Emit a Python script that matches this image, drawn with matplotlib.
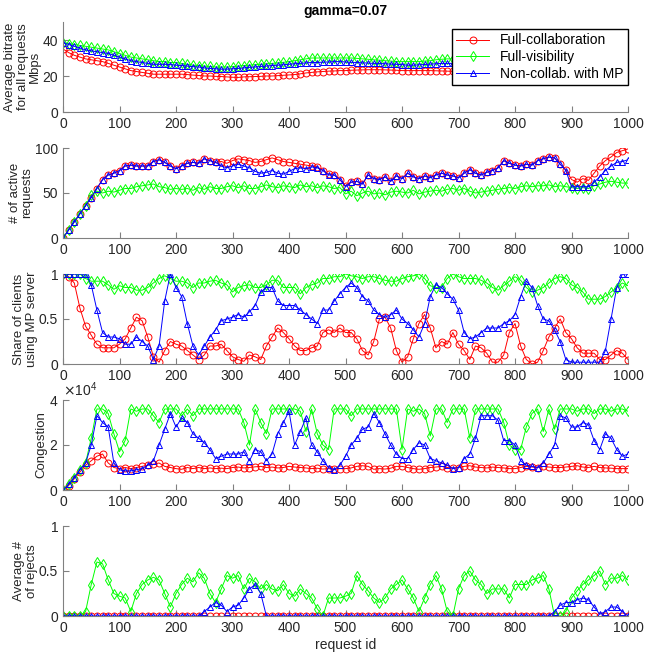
import numpy as np
import matplotlib
matplotlib.use('Agg')
import matplotlib.pyplot as plt
from matplotlib.ticker import FuncFormatter, ScalarFormatter

plt.rcParams['font.family'] = ['Liberation Sans', 'DejaVu Sans']
plt.rcParams['font.size'] = 10

# request ids (one sample every 10 requests)
req = np.arange(0, 1001, 10)
labels = ['Full-collaboration', 'Full-visibility', 'Non-collab. with MP']

# average bitrate (Mbps)
rate_fc = [35, 33, 31.5, 30.5, 29.5, 29, 28.5, 28, 27, 26,
           25, 24, 23, 22.5, 22, 21.5, 21, 21, 21, 21,
           21, 21, 20.8, 20.5, 20.3, 20, 20, 19.8, 19.7, 19.5,
           19.3, 19.2, 19.5, 19.6, 19.7, 19.8, 20, 20, 20.2, 20.4,
           20.6, 20.8, 21.2, 21.7, 22, 22.3, 22.5, 22.7, 22.8, 23,
           23, 23.2, 23.3, 23.4, 23.5, 23.5, 23.5, 23.4, 23.3, 23.2,
           23, 23, 23, 23, 23, 23, 22.9, 22.8, 22.7, 22.6,
           22.5, 22.3, 22.1, 21.9, 21.7, 21.5, 21.3, 21.1, 20.9, 20.7,
           20.5, 20.4, 20.3, 20.2, 20.1, 20, 19.9, 19.8, 19.7, 19.6,
           19.5, 19.5, 19.4, 19.4, 19.3, 19.3, 19.2, 19.2, 19.1, 19.1,
           19]
rate_fv = [38.5, 38, 37.5, 37, 36.5, 36, 35.5, 35, 34.5, 33.5,
           32.5, 31.5, 30.5, 30, 29.5, 29, 28.5, 28, 28, 27.5,
           27.5, 27, 26.5, 26, 25.8, 25.5, 25.3, 25, 25, 25,
           25.2, 25.5, 25.8, 26, 26.3, 26.5, 26.8, 27, 27.3, 27.6,
           28, 28.5, 29, 29.5, 30, 30, 30, 30, 30, 30,
           30, 30, 29.8, 29.5, 29.3, 29, 28.8, 28.5, 28.3, 28,
           28, 28, 28, 28, 28.3, 28.5, 29, 29.3, 29.5, 29.5,
           29.5, 29.4, 29.3, 29.2, 29.1, 29, 28.9, 28.8, 28.7, 28.6,
           28.5, 28.5, 28.4, 28.4, 28.3, 28.3, 28.2, 28.2, 28.1, 28.1,
           28, 28, 28, 28, 28, 28, 28, 28, 28, 28,
           28]
rate_nc = [38.5, 37.5, 36.5, 35.5, 34.5, 34, 33.5, 33, 32.5, 31.5,
           30.5, 29.5, 28.5, 28, 27.5, 27, 26.5, 26.5, 26.5, 26.3,
           26, 25.8, 25.5, 25.2, 25, 24.5, 24.2, 24, 23.8, 23.8,
           24, 24.2, 24.5, 24.8, 25, 25.3, 25.5, 25.8, 26, 26.2,
           26.5, 26.8, 27, 27.3, 27.5, 27.5, 27.7, 27.8, 28, 28,
           27.8, 27.6, 27.5, 27.3, 27.2, 27, 27, 26.8, 26.6, 26.5,
           26.3, 26, 26, 26.2, 26.4, 26.6, 26.8, 27, 27, 27,
           27, 27, 27, 27, 27, 27, 26.9, 26.9, 26.8, 26.8,
           26.8, 26.7, 26.7, 26.7, 26.6, 26.6, 26.6, 26.6, 26.5, 26.5,
           26.5, 26.5, 26.5, 26.5, 26.5, 26.5, 26.5, 26.5, 26.5, 26.5,
           26.5]

# number of active requests
active_fc = [0, 9, 18, 27, 36, 45, 55, 65, 70, 72,
             75, 80, 81, 80, 80, 80, 85, 87, 84, 80,
             77, 80, 83, 84, 83, 88, 86, 84, 85, 83,
             86, 88, 87, 86, 84, 85, 87, 89, 87, 85,
             84, 83, 82, 81, 80, 79, 75, 71, 70, 65,
             58, 62, 63, 60, 70, 66, 65, 68, 63, 69,
             66, 72, 68, 66, 69, 67, 70, 72, 70, 69,
             67, 72, 76, 72, 70, 73, 75, 78, 86, 83,
             81, 80, 82, 81, 86, 88, 90, 89, 82, 76,
             65, 62, 66, 64, 72, 80, 86, 90, 95, 97,
             99]
active_fv = [0, 9, 18, 27, 36, 48, 52, 50, 52, 51,
             53, 55, 55, 57, 58, 59, 60, 57, 56, 54,
             55, 54, 55, 53, 56, 54, 57, 55, 55, 57,
             58, 56, 58, 55, 55, 57, 59, 57, 56, 58,
             57, 56, 59, 57, 58, 56, 58, 57, 55, 56,
             49, 52, 47, 50, 52, 49, 50, 48, 51, 52,
             51, 50, 53, 49, 51, 52, 53, 52, 54, 55,
             53, 55, 52, 50, 51, 52, 53, 54, 55, 56,
             55, 57, 58, 57, 58, 58, 59, 57, 58, 57,
             56, 55, 56, 55, 58, 60, 62, 63, 62, 61,
             61]
active_nc = [0, 9, 18, 27, 36, 45, 55, 65, 70, 72,
             75, 80, 81, 80, 80, 80, 85, 87, 84, 80,
             77, 80, 83, 84, 83, 88, 86, 84, 80, 78,
             80, 82, 80, 78, 74, 72, 73, 75, 72, 71,
             74, 77, 78, 77, 79, 78, 75, 70, 70, 65,
             57, 62, 63, 60, 70, 66, 65, 68, 63, 69,
             66, 72, 68, 66, 69, 67, 70, 72, 70, 69,
             67, 72, 76, 72, 70, 73, 75, 78, 86, 83,
             81, 80, 82, 81, 86, 88, 90, 89, 82, 75,
             57, 57, 57, 57, 62, 68, 75, 80, 84, 85,
             87]

# share of clients using the MP server
share_fc = [1.0, 0.97, 0.9, 0.62, 0.42, 0.32, 0.22, 0.18, 0.18, 0.18,
            0.22, 0.28, 0.4, 0.52, 0.48, 0.3, 0.08, 0.02, 0.15, 0.25,
            0.22, 0.2, 0.15, 0.1, 0.05, 0.1, 0.2, 0.2, 0.22, 0.15,
            0.08, 0.05, 0.03, 0.1, 0.08, 0.05, 0.2, 0.3, 0.4, 0.35,
            0.28, 0.2, 0.15, 0.15, 0.18, 0.2, 0.35, 0.38, 0.35, 0.4,
            0.35, 0.35, 0.28, 0.15, 0.1, 0.25, 0.5, 0.52, 0.4, 0.15,
            0.02, 0.08, 0.28, 0.45, 0.55, 0.4, 0.18, 0.25, 0.22, 0.35,
            0.22, 0.15, 0.05, 0.2, 0.18, 0.12, 0.02, 0.02, 0.1, 0.35,
            0.45, 0.2, 0.05, 0.0, 0.02, 0.15, 0.3, 0.4, 0.5, 0.35,
            0.28, 0.18, 0.12, 0.12, 0.12, 0.05, 0.05, 0.1, 0.15, 0.12,
            0.05]
share_fv = [1, 1, 1, 1, 0.95, 0.92, 0.92, 0.92, 0.88, 0.83,
            0.87, 0.85, 0.85, 0.82, 0.82, 0.85, 0.9, 0.95, 0.98, 0.95,
            0.92, 0.92, 0.9, 0.85, 0.9, 0.9, 0.92, 0.93, 0.9, 0.88,
            0.8, 0.85, 0.87, 0.88, 0.85, 0.85, 0.88, 0.93, 0.93, 0.85,
            0.85, 0.85, 0.78, 0.85, 0.88, 0.9, 0.95, 0.95, 0.97, 0.97,
            1.0, 0.98, 0.97, 0.95, 0.97, 0.97, 0.95, 0.93, 0.92, 0.92,
            0.95, 0.97, 0.98, 1.0, 0.95, 0.87, 0.85, 0.85, 0.95, 1.0,
            0.97, 0.95, 0.95, 0.95, 0.93, 0.9, 0.85, 0.82, 0.87, 0.92,
            0.97, 0.93, 0.85, 0.8, 0.82, 0.85, 0.9, 0.95, 0.97, 0.95,
            0.88, 0.85, 0.8, 0.72, 0.72, 0.72, 0.75, 0.8, 0.85, 0.9,
            0.87]
share_nc = [1, 1, 1, 1, 1, 0.88, 0.6, 0.35, 0.3, 0.3,
            0.28, 0.22, 0.22, 0.3, 0.25, 0.2, 0.05, 0.2, 0.7, 1.0,
            0.85, 0.75, 0.45, 0.2, 0.1, 0.2, 0.3, 0.38, 0.48, 0.5,
            0.52, 0.55, 0.52, 0.58, 0.65, 0.8, 0.85, 0.85, 0.7, 0.65,
            0.65, 0.65, 0.6, 0.55, 0.5, 0.45, 0.6, 0.6, 0.7, 0.78,
            0.85, 0.9, 0.85, 0.75, 0.7, 0.6, 0.55, 0.52, 0.55, 0.6,
            0.5, 0.45, 0.38, 0.3, 0.45, 0.75, 0.88, 0.85, 0.78, 0.72,
            0.6, 0.35, 0.28, 0.3, 0.35, 0.4, 0.4, 0.4, 0.45, 0.48,
            0.55, 0.75, 0.92, 0.85, 0.65, 0.5, 0.48, 0.38, 0.25, 0.05,
            0.02, 0.02, 0.02, 0.02, 0.02, 0.02, 0.15, 0.5, 0.85, 1.0,
            1.0]

# congestion (x 10^4)
cong_fc = [0, 0.2, 0.5, 0.8, 1.1, 1.3, 1.5, 1.6, 1.2, 1.0,
           0.95, 1.0, 0.95, 1.0, 1.05, 1.1, 1.15, 1.2, 1.05, 1.0,
           0.95, 0.92, 1.0, 0.95, 1.0, 0.95, 0.98, 0.95, 0.97, 0.95,
           1.0, 1.02, 0.98, 1.0, 1.03, 1.05, 1.0, 1.02, 0.98, 1.0,
           1.05, 1.02, 1.0, 0.98, 0.95, 0.97, 0.93, 0.95, 0.92, 0.95,
           0.95, 0.98, 1.05, 1.08, 1.05, 0.92, 0.95, 0.93, 0.97, 1.05,
           1.05, 1.0, 0.95, 0.92, 0.95, 1.0, 1.02, 1.05, 1.0, 0.98,
           1.0, 1.05, 1.08, 1.02, 1.0, 0.98, 1.02, 1.0, 0.98, 0.95,
           0.95, 1.0, 1.05, 1.02, 1.0, 1.05, 1.02, 1.0, 1.0, 1.02,
           1.05, 1.08, 1.02, 1.0, 1.05, 1.0, 0.98, 0.97, 0.95, 0.95,
           0.95]
cong_fv = [0, 0.25, 0.55, 0.9, 1.2, 2.3, 3.6, 3.6, 3.4, 2.5,
           1.7, 2.2, 3.6, 3.5, 3.6, 3.6, 3.3, 3.0, 3.6, 3.6,
           3.6, 3.3, 3.6, 3.3, 3.6, 3.6, 3.6, 3.6, 3.6, 3.6,
           3.6, 3.6, 3.0, 2.0, 3.6, 3.0, 2.5, 3.6, 3.6, 3.6,
           3.6, 3.6, 3.5, 2.6, 3.6, 2.5, 2.0, 1.8, 3.6, 3.6,
           3.6, 3.3, 3.6, 3.6, 3.6, 3.6, 3.6, 3.6, 3.6, 3.6,
           1.8, 3.6, 3.5, 3.6, 3.4, 2.4, 3.6, 3.6, 3.0, 3.6,
           3.6, 3.6, 2.3, 3.6, 3.6, 3.6, 3.6, 3.6, 3.0, 2.0,
           1.8, 1.8, 2.8, 3.4, 3.6, 2.6, 3.6, 2.7, 3.6, 3.6,
           3.6, 3.5, 3.6, 3.6, 3.4, 3.6, 3.6, 3.5, 3.6, 3.6,
           3.5]
cong_nc = [0, 0.25, 0.55, 0.9, 1.2, 2.0, 3.3, 3.0, 2.8, 1.2,
           0.9, 0.85, 0.85, 0.9, 0.95, 1.1, 1.3, 2.0, 2.7, 3.4,
           2.8, 3.2, 3.0, 2.5, 2.3, 2.1, 1.8, 1.4, 1.5, 1.6,
           1.6, 1.6, 1.7, 1.3, 1.8, 1.7, 1.3, 1.6, 2.5, 3.0,
           3.5, 2.0, 2.6, 3.2, 2.0, 1.7, 1.3, 1.0, 0.9, 1.1,
           1.5, 2.0, 2.3, 2.7, 2.8, 3.4, 3.0, 2.5, 2.0, 1.6,
           1.4, 1.4, 1.8, 2.1, 2.0, 1.4, 1.3, 1.2, 1.1, 0.95,
           1.0, 1.4, 1.6, 2.3, 3.3, 3.3, 3.3, 3.1, 2.2, 2.2,
           2.0, 1.3, 1.1, 1.05, 1.0, 1.2, 1.6, 2.0, 3.3, 3.2,
           2.8, 2.8, 3.0, 2.9, 2.2, 1.8, 2.5, 2.3, 1.8, 1.5,
           1.6]

# average number of rejects
rej_fc = [0] * 101
rej_fv = [0, 0, 0, 0, 0.05, 0.35, 0.6, 0.58, 0.4, 0.25,
          0.22, 0.2, 0.05, 0.25, 0.35, 0.4, 0.43, 0.4, 0.25, 0.1,
          0.25, 0.35, 0.42, 0.38, 0.48, 0.42, 0.25, 0.15, 0.3, 0.45,
          0.42, 0.45, 0.3, 0.42, 0.38, 0.3, 0.35, 0.3, 0.28, 0.35,
          0.25, 0.22, 0.3, 0.25, 0.2, 0.08, 0.0, 0.2, 0.2, 0.2,
          0.22, 0.25, 0.45, 0.35, 0.28, 0.2, 0.15, 0.2, 0.3, 0.35,
          0.4, 0.3, 0.2, 0.05, 0.2, 0.35, 0.45, 0.3, 0.05, 0.0,
          0.3, 0.45, 0.5, 0.4, 0.35, 0.25, 0.3, 0.3, 0.3, 0.2,
          0.35, 0.35, 0.35, 0.4, 0.42, 0.45, 0.3, 0.0, 0.0, 0.05,
          0.2, 0.28, 0.35, 0.4, 0.45, 0.5, 0.35, 0.42, 0.42, 0.45,
          0.4]
rej_nc = ([0] * 25
          + [0.05, 0.1, 0.15, 0.12, 0.05, 0.1, 0.12, 0.2, 0.3, 0.35, 0.25]
          + [0] * 51
          + [0.05, 0.12, 0.15, 0.15, 0.18, 0.2, 0.18, 0.1, 0.02, 0.05,
             0.1, 0.1, 0.05, 0])

panels = [
    ('Average bitrate\nfor all requests\nMbps', (rate_fc, rate_fv, rate_nc), 1, (0, 50), [0, 20, 40]),
    ('# of active\nrequests', (active_fc, active_fv, active_nc), 1, (0, 100), [0, 50, 100]),
    ('Share of clients\nusing MP server', (share_fc, share_fv, share_nc), 1, (0, 1), [0, 0.5, 1]),
    ('Congestion', (cong_fc, cong_fv, cong_nc), 1e4, (0, 4e4), [0, 2e4, 4e4]),
    ('Average #\nof rejects', (rej_fc, rej_fv, rej_nc), 1, (0, 1), [0, 0.5, 1]),
]
styles = [('r', 'o'), ((0, 1, 0), 'd'), ('b', '^')]
axcol = '#808080'
txtcol = '#262626'

fig = plt.figure(figsize=(6.48, 6.58), dpi=100)
tops = [22, 148, 274, 400, 526]
axes = []
for k, (ylab, series, scale, ylim, yt) in enumerate(panels):
    ax = fig.add_axes([63 / 648, 1 - (tops[k] + 90) / 658, 565 / 648, 90 / 658])
    for (col, mk), vals, lab in zip(styles, series, labels):
        ax.plot(req, np.array(vals) * scale, color=col, marker=mk,
                markerfacecolor='none', markersize=5, linewidth=0.7,
                markeredgewidth=0.7, label=lab)
    ax.set_xlim(0, 1000)
    ax.set_ylim(*ylim)
    ax.set_xticks(range(0, 1001, 100))
    ax.set_yticks(yt)
    if scale == 1:
        ax.yaxis.set_major_formatter(FuncFormatter(lambda v, p: '%g' % v))
    else:
        fmt = ScalarFormatter(useMathText=True)
        fmt.set_powerlimits((0, 0))
        ax.yaxis.set_major_formatter(fmt)
    for s in ['top', 'right']:
        ax.spines[s].set_visible(False)
    for s in ['left', 'bottom']:
        ax.spines[s].set_color(axcol)
        ax.spines[s].set_linewidth(0.8)
    ax.tick_params(direction='in', length=4, width=0.8, color=axcol,
                   labelcolor=txtcol, labelsize=10)
    ax.yaxis.get_offset_text().set_color(txtcol)
    ax.set_ylabel(ylab, fontsize=9.5, color=txtcol, labelpad=1,
                  linespacing=1.05)
    axes.append(ax)

axes[0].set_title('gamma=0.07', fontweight='bold', fontsize=10, pad=5)
axes[0].legend(loc='upper right', bbox_to_anchor=(1.0, 0.92), borderaxespad=0,
               fancybox=False, edgecolor='black', framealpha=1, fontsize=10,
               handlelength=2.4, borderpad=0.3, labelspacing=0.2)
axes[-1].set_xlabel('request id', fontsize=10, color=txtcol, labelpad=2)

fig.savefig('out.png', dpi=100)
